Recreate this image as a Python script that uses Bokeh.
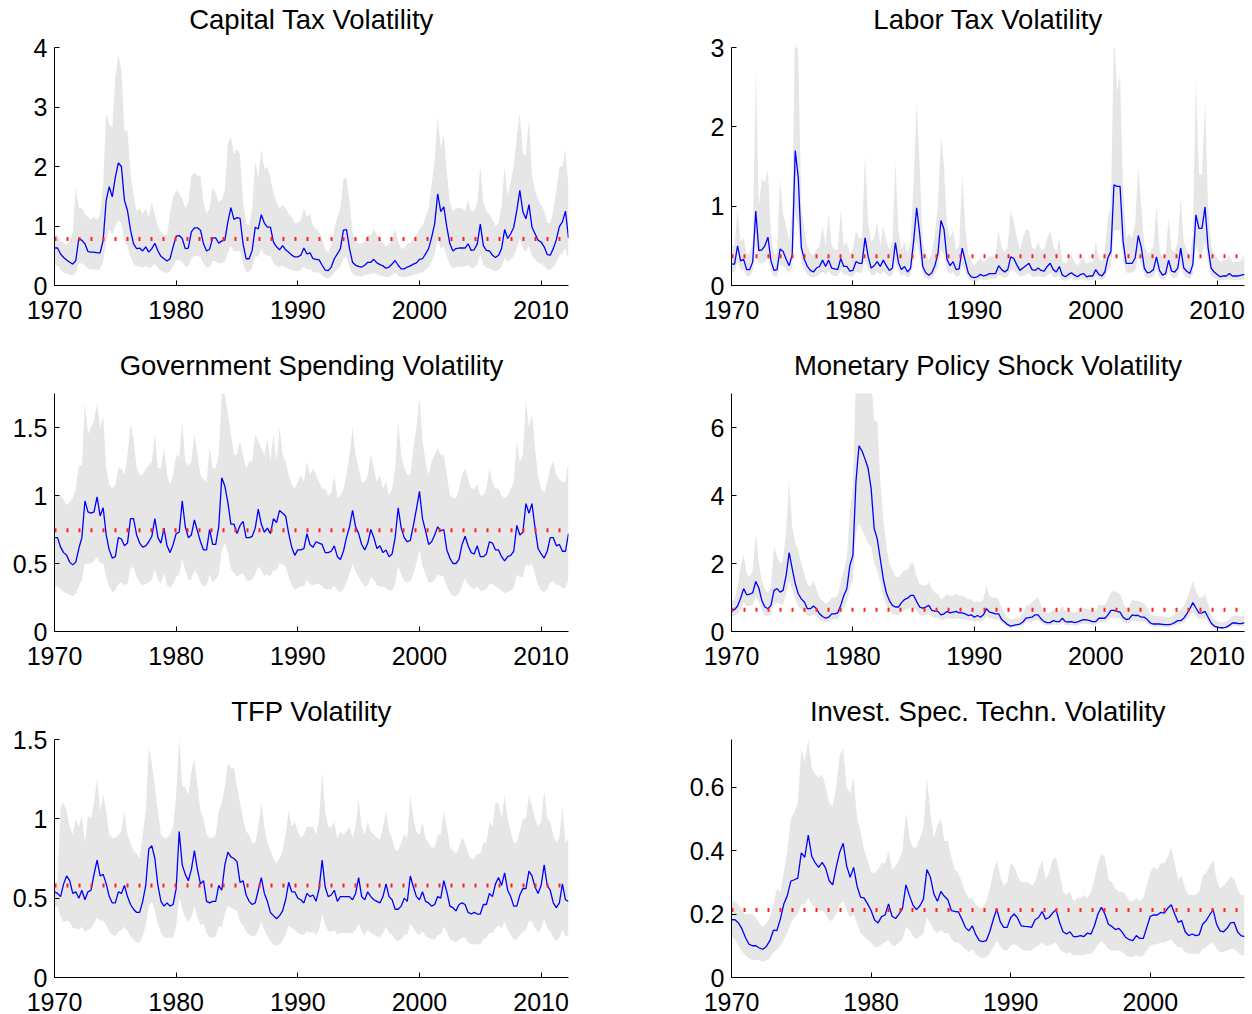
import numpy as np
from bokeh.plotting import figure
from bokeh.layouts import column, row
from bokeh.models import Span, FixedTicker, Range1d, CustomJSTickFormatter
from bokeh.embed import file_html
from bokeh.resources import INLINE

START_YEAR = 1970.0
QUARTER = 0.25
XTICKS = [1970, 1980, 1990, 2000, 2010]

# ---------------- Capital Tax Volatility ----------------
CAP_TITLE = "Capital Tax Volatility"
CAP_MED = [0.63,0.63,0.53,0.47, 0.43,0.39,0.36,0.42, 0.79,0.76,0.70,0.57, 0.56,0.56,0.55,0.55,
           0.76,1.43,1.66,1.49, 1.82,2.06,2.00,1.43, 1.26,0.93,0.70,0.62, 0.63,0.58,0.65,0.56,
           0.62,0.71,0.58,0.49, 0.45,0.41,0.45,0.65, 0.83,0.84,0.79,0.62, 0.63,0.90,0.97,0.97,
           0.93,0.70,0.58,0.61, 0.80,0.80,0.71,0.75, 0.76,1.07,1.31,1.11, 1.14,1.13,0.70,0.45,
           0.45,0.59,0.98,0.95, 1.19,1.05,0.98,0.98, 0.73,0.65,0.60,0.67, 0.60,0.56,0.51,0.48,
           0.48,0.51,0.63,0.53, 0.55,0.45,0.44,0.43, 0.34,0.26,0.25,0.31, 0.45,0.53,0.62,0.93,
           0.94,0.62,0.39,0.34, 0.32,0.31,0.34,0.39, 0.39,0.44,0.38,0.35, 0.33,0.29,0.31,0.36,
           0.42,0.34,0.28,0.28, 0.31,0.33,0.36,0.38, 0.44,0.45,0.53,0.62, 0.81,1.04,1.54,1.24,
           1.32,0.98,0.70,0.58, 0.62,0.63,0.63,0.63, 0.70,0.59,0.60,0.70, 1.03,0.67,0.59,0.58,
           0.51,0.47,0.51,0.62, 0.94,0.79,0.87,0.98, 1.26,1.60,1.24,1.12, 1.36,0.98,0.87,0.76,
           0.73,0.65,0.52,0.51, 0.62,0.77,0.99,1.07, 1.25,0.80]
CAP_HI = [0.85,0.85,0.75,0.72, 0.68,0.75,0.90,1.65, 1.30,1.30,1.20,1.15, 1.10,1.15,1.10,1.20,
          1.70,2.90,2.70,2.65, 3.50,3.90,3.60,2.60, 2.60,1.90,1.50,1.25, 1.30,1.20,1.30,1.15,
          1.40,1.20,1.00,0.90, 0.85,0.85,1.20,1.50, 1.60,1.55,1.45,1.30, 1.40,1.85,1.90,1.85,
          1.85,1.40,1.20,1.30, 1.65,1.55,1.40,1.45, 1.60,2.40,2.50,2.20, 2.30,2.20,1.40,1.05,
          1.00,1.30,2.10,1.80, 2.30,1.95,2.00,1.80, 1.55,1.40,1.30,1.35, 1.30,1.20,1.15,1.05,
          1.05,1.10,1.30,1.15, 1.20,1.00,0.95,0.90, 0.78,0.60,0.55,0.68, 0.95,1.15,1.30,1.80,
          1.80,1.40,0.90,0.75, 0.70,0.70,0.75,0.85, 0.85,0.95,0.85,0.80, 0.72,0.65,0.70,0.80,
          0.95,0.75,0.62,0.62, 0.70,0.72,0.80,0.85, 0.95,1.00,1.15,1.30, 1.70,2.10,2.85,2.30,
          2.55,1.90,1.40,1.25, 1.30,1.30,1.30,1.25, 1.45,1.25,1.25,1.40, 2.00,1.40,1.25,1.20,
          1.10,1.00,1.05,1.35, 2.00,1.50,1.75,2.00, 2.50,2.90,2.20,2.20, 2.80,1.85,1.60,1.45,
          1.35,1.25,1.05,1.05, 1.25,1.60,2.00,2.00, 2.30,1.65]
CAP_LO = [0.35,0.33,0.27,0.22, 0.20,0.18,0.17,0.20, 0.38,0.37,0.34,0.28, 0.27,0.27,0.26,0.27,
          0.40,0.75,0.95,0.85, 1.00,1.10,1.05,0.75, 0.65,0.48,0.36,0.32, 0.32,0.30,0.33,0.29,
          0.32,0.36,0.30,0.25, 0.23,0.21,0.23,0.33, 0.42,0.43,0.40,0.32, 0.32,0.46,0.50,0.50,
          0.48,0.36,0.30,0.31, 0.41,0.41,0.37,0.38, 0.39,0.55,0.67,0.57, 0.58,0.58,0.36,0.23,
          0.23,0.30,0.50,0.48, 0.60,0.53,0.50,0.50, 0.37,0.33,0.30,0.34, 0.30,0.28,0.26,0.24,
          0.24,0.26,0.32,0.27, 0.28,0.23,0.22,0.22, 0.17,0.13,0.12,0.15, 0.22,0.27,0.31,0.47,
          0.47,0.31,0.20,0.17, 0.16,0.15,0.17,0.19, 0.19,0.22,0.19,0.17, 0.16,0.14,0.15,0.18,
          0.21,0.17,0.14,0.14, 0.15,0.16,0.18,0.19, 0.22,0.22,0.26,0.31, 0.40,0.52,0.78,0.62,
          0.66,0.49,0.35,0.29, 0.31,0.32,0.32,0.32, 0.35,0.30,0.30,0.35, 0.52,0.34,0.30,0.29,
          0.26,0.24,0.26,0.31, 0.47,0.40,0.44,0.49, 0.63,0.80,0.62,0.56, 0.68,0.49,0.44,0.38,
          0.37,0.33,0.26,0.26, 0.31,0.39,0.50,0.54, 0.63,0.41]
CAP_MEAN = 0.78
CAP_YTICKS = [0, 1, 2, 3, 4]
CAP_YMAX = 4

# ---------------- Labor Tax Volatility ----------------
LAB_TITLE = "Labor Tax Volatility"
LAB_MED = [0.27,0.27,0.50,0.31, 0.33,0.20,0.20,0.30, 0.94,0.44,0.45,0.50, 0.61,0.31,0.19,0.20,
           0.46,0.43,0.33,0.25, 0.39,1.70,1.36,0.48, 0.33,0.24,0.19,0.17, 0.22,0.24,0.32,0.24,
           0.32,0.22,0.21,0.20, 0.34,0.24,0.24,0.18, 0.19,0.30,0.28,0.28, 0.60,0.37,0.22,0.25,
           0.30,0.24,0.32,0.25, 0.19,0.22,0.54,0.29, 0.20,0.24,0.17,0.22, 0.56,0.98,0.65,0.24,
           0.16,0.13,0.16,0.25, 0.40,0.82,0.71,0.33, 0.25,0.30,0.20,0.21, 0.47,0.31,0.16,0.11,
           0.10,0.11,0.14,0.12, 0.13,0.15,0.15,0.15, 0.25,0.20,0.17,0.20, 0.36,0.34,0.26,0.19,
           0.22,0.25,0.28,0.20, 0.19,0.22,0.19,0.18, 0.24,0.28,0.20,0.17, 0.24,0.13,0.11,0.14,
           0.16,0.13,0.11,0.14, 0.15,0.11,0.12,0.12, 0.20,0.14,0.12,0.17, 0.35,0.43,1.27,1.25,
           1.25,0.56,0.28,0.28, 0.28,0.35,0.63,0.48, 0.22,0.16,0.17,0.20, 0.36,0.19,0.13,0.15,
           0.32,0.18,0.17,0.22, 0.47,0.22,0.18,0.15, 0.27,0.89,0.72,0.72, 0.99,0.48,0.22,0.17,
           0.14,0.11,0.12,0.12, 0.15,0.12,0.12,0.12, 0.13,0.14]
LAB_HI = [0.50,0.50,0.95,0.55, 0.60,0.40,0.40,0.55, 2.70,1.00,1.35,1.30, 1.45,0.65,0.40,0.40,
          1.35,0.90,0.75,0.55, 0.95,3.40,2.90,1.00, 0.70,0.50,0.40,0.38, 0.45,0.50,0.75,0.50,
          0.90,0.50,0.45,0.45, 0.95,0.50,0.55,0.40, 0.45,0.70,0.60,0.60, 1.65,0.80,0.55,0.60,
          0.80,0.50,0.75,0.55, 0.45,0.55,1.55,0.70, 0.45,0.55,0.40,0.55, 1.30,2.30,1.50,0.55,
          0.38,0.32,0.40,0.65, 1.00,1.90,1.50,0.75, 0.60,0.70,0.45,0.50, 1.40,0.75,0.40,0.30,
          0.25,0.30,0.35,0.30, 0.32,0.37,0.37,0.37, 0.70,0.48,0.42,0.50, 0.95,0.80,0.60,0.45,
          0.60,0.70,0.70,0.48, 0.45,0.55,0.45,0.45, 0.60,0.70,0.50,0.42, 0.60,0.30,0.28,0.33,
          0.38,0.30,0.25,0.32, 0.35,0.27,0.30,0.30, 0.55,0.35,0.30,0.45, 0.85,1.00,3.20,2.45,
          2.65,1.20,0.60,0.65, 0.60,0.80,1.50,1.00, 0.50,0.40,0.42,0.50, 1.00,0.45,0.33,0.38,
          0.85,0.45,0.42,0.55, 1.10,0.55,0.45,0.37, 0.65,2.60,1.40,1.40, 2.30,1.00,0.50,0.40,
          0.35,0.30,0.32,0.32, 0.38,0.30,0.30,0.30, 0.32,0.40]
LAB_LO = [0.17,0.17,0.30,0.20, 0.20,0.12,0.12,0.18, 0.50,0.28,0.28,0.30, 0.35,0.19,0.11,0.12,
          0.26,0.25,0.20,0.15, 0.22,0.90,0.75,0.28, 0.20,0.14,0.11,0.10, 0.12,0.14,0.18,0.14,
          0.18,0.13,0.12,0.12, 0.19,0.14,0.14,0.11, 0.11,0.17,0.16,0.16, 0.33,0.21,0.13,0.14,
          0.17,0.14,0.18,0.14, 0.11,0.13,0.30,0.17, 0.12,0.14,0.10,0.13, 0.31,0.55,0.37,0.14,
          0.09,0.07,0.09,0.14, 0.22,0.45,0.40,0.19, 0.14,0.17,0.11,0.12, 0.26,0.18,0.09,0.06,
          0.05,0.06,0.08,0.07, 0.07,0.08,0.08,0.08, 0.14,0.11,0.10,0.11, 0.20,0.19,0.15,0.11,
          0.12,0.14,0.16,0.11, 0.11,0.12,0.11,0.10, 0.13,0.16,0.11,0.10, 0.13,0.07,0.06,0.08,
          0.09,0.07,0.06,0.08, 0.08,0.06,0.07,0.07, 0.11,0.08,0.07,0.09, 0.19,0.24,0.70,0.70,
          0.70,0.31,0.16,0.16, 0.16,0.19,0.35,0.27, 0.12,0.09,0.09,0.11, 0.20,0.10,0.07,0.08,
          0.18,0.10,0.09,0.12, 0.26,0.12,0.10,0.08, 0.15,0.50,0.40,0.40, 0.55,0.27,0.12,0.09,
          0.08,0.06,0.07,0.07, 0.08,0.07,0.07,0.07, 0.07,0.08]
LAB_MEAN = 0.37
LAB_YTICKS = [0, 1, 2, 3]
LAB_YMAX = 3

# ---------------- Government Spending Volatility ----------------
GOV_TITLE = "Government Spending Volatility"
GOV_MED = [0.69,0.69,0.62,0.58, 0.56,0.51,0.49,0.51, 0.61,0.69,0.96,0.88, 0.87,0.88,0.99,0.85,
           0.91,0.71,0.60,0.54, 0.55,0.69,0.68,0.63, 0.65,0.83,0.83,0.71, 0.65,0.62,0.63,0.66,
           0.70,0.83,0.69,0.65, 0.76,0.63,0.58,0.64, 0.72,0.73,0.96,0.77, 0.69,0.71,0.82,0.74,
           0.66,0.60,0.60,0.75, 0.64,0.64,0.77,1.13, 1.07,0.95,0.79,0.79, 0.72,0.78,0.81,0.69,
           0.69,0.70,0.76,0.90, 0.79,0.73,0.76,0.72, 0.83,0.80,0.89,0.87, 0.85,0.72,0.62,0.56,
           0.60,0.60,0.61,0.72, 0.64,0.62,0.66,0.65, 0.64,0.58,0.58,0.59, 0.63,0.55,0.53,0.59,
           0.69,0.77,0.89,0.77, 0.72,0.64,0.60,0.65, 0.75,0.69,0.61,0.63, 0.58,0.60,0.55,0.57,
           0.69,0.91,0.76,0.69, 0.66,0.67,0.78,0.90, 1.03,0.83,0.74,0.64, 0.66,0.71,0.77,0.74,
           0.75,0.60,0.54,0.50, 0.50,0.53,0.64,0.70, 0.63,0.58,0.57,0.63, 0.55,0.55,0.57,0.66,
           0.65,0.60,0.60,0.55, 0.52,0.55,0.56,0.59, 0.78,0.71,0.73,0.94, 0.87,0.94,0.76,0.61,
           0.57,0.54,0.59,0.69, 0.69,0.63,0.64,0.59, 0.59,0.72]
GOV_HI = [1.00,1.00,1.00,0.97, 0.93,0.95,0.98,1.05, 1.22,1.22,1.68,1.45, 1.50,1.55,1.68,1.50,
          1.58,1.20,1.08,1.05, 1.08,1.20,1.20,1.15, 1.30,1.53,1.42,1.20, 1.15,1.15,1.20,1.22,
          1.25,1.45,1.20,1.20, 1.35,1.15,1.08,1.15, 1.30,1.28,1.55,1.25, 1.22,1.25,1.45,1.30,
          1.15,1.12,1.10,1.35, 1.20,1.20,1.30,1.75, 1.75,1.60,1.45,1.30, 1.30,1.40,1.30,1.20,
          1.25,1.25,1.45,1.40, 1.35,1.30,1.42,1.25, 1.45,1.25,1.50,1.30, 1.25,1.15,1.08,1.05,
          1.10,1.15,1.10,1.25, 1.15,1.20,1.15,1.10, 1.05,1.05,1.00,1.02, 1.15,0.98,1.00,1.05,
          1.15,1.30,1.50,1.30, 1.20,1.10,1.10,1.15, 1.30,1.20,1.10,1.15, 1.05,1.10,1.00,1.05,
          1.20,1.55,1.30,1.20, 1.15,1.15,1.35,1.50, 1.72,1.40,1.25,1.15, 1.25,1.30,1.35,1.30,
          1.30,1.15,1.00,0.98, 0.98,1.05,1.15,1.20, 1.12,1.05,1.05,1.08, 1.00,1.00,1.05,1.20,
          1.10,1.05,1.05,1.00, 0.98,1.00,1.05,1.10, 1.40,1.25,1.30,1.70, 1.50,1.60,1.35,1.15,
          1.05,1.02,1.10,1.20, 1.25,1.15,1.12,1.10, 1.10,1.25]
GOV_LO = [0.33,0.33,0.31,0.29, 0.28,0.27,0.26,0.28, 0.33,0.38,0.50,0.50, 0.50,0.52,0.55,0.50,
          0.50,0.40,0.33,0.29, 0.30,0.35,0.36,0.34, 0.35,0.47,0.47,0.40, 0.36,0.34,0.35,0.36,
          0.38,0.46,0.38,0.35, 0.43,0.34,0.32,0.35, 0.40,0.42,0.53,0.45, 0.38,0.38,0.45,0.42,
          0.36,0.33,0.34,0.42, 0.36,0.38,0.42,0.60, 0.65,0.58,0.46,0.43, 0.40,0.42,0.43,0.38,
          0.37,0.38,0.42,0.48, 0.45,0.41,0.42,0.40, 0.45,0.45,0.50,0.49, 0.48,0.40,0.34,0.31,
          0.32,0.33,0.33,0.38, 0.35,0.34,0.35,0.35, 0.33,0.31,0.31,0.31, 0.34,0.30,0.29,0.31,
          0.36,0.42,0.50,0.44, 0.40,0.36,0.33,0.34, 0.40,0.38,0.34,0.33, 0.33,0.32,0.30,0.30,
          0.35,0.48,0.42,0.37, 0.36,0.37,0.42,0.50, 0.60,0.48,0.42,0.36, 0.36,0.38,0.42,0.41,
          0.40,0.33,0.29,0.26, 0.26,0.28,0.34,0.39, 0.35,0.32,0.31,0.33, 0.30,0.30,0.31,0.35,
          0.35,0.33,0.32,0.30, 0.28,0.29,0.30,0.32, 0.42,0.40,0.40,0.50, 0.48,0.50,0.42,0.34,
          0.30,0.29,0.31,0.36, 0.37,0.34,0.34,0.32, 0.32,0.38]
GOV_MEAN = 0.745
GOV_YTICKS = [0, 0.5, 1, 1.5]
GOV_YMAX = 1.75

# ---------------- Monetary Policy Shock Volatility ----------------
MON_TITLE = "Monetary Policy Shock Volatility"
MON_MED = [0.62,0.64,0.75,0.98, 1.26,1.08,1.10,1.14, 1.47,1.28,0.91,0.72, 0.67,0.77,1.21,1.26,
           1.16,1.21,1.65,2.32, 1.85,1.41,1.11,0.96, 0.87,0.67,0.67,0.75, 0.67,0.52,0.44,0.39,
           0.42,0.52,0.52,0.55, 0.77,1.06,1.26,1.95, 2.24,4.41,5.46,5.31, 5.07,4.80,4.21,3.03,
           2.73,2.14,1.55,1.14, 0.91,0.77,0.72,0.72, 0.85,0.94,0.98,1.06, 1.06,0.88,0.72,0.69,
           0.72,0.77,0.62,0.60, 0.59,0.49,0.52,0.59, 0.55,0.57,0.59,0.55, 0.55,0.52,0.47,0.49,
           0.42,0.47,0.42,0.49, 0.67,0.57,0.55,0.52, 0.52,0.35,0.28,0.20, 0.16,0.18,0.20,0.22,
           0.28,0.39,0.41,0.42, 0.49,0.49,0.37,0.29, 0.26,0.26,0.32,0.29, 0.29,0.39,0.29,0.28,
           0.29,0.26,0.28,0.32, 0.35,0.34,0.32,0.29, 0.29,0.39,0.39,0.39, 0.49,0.62,0.62,0.59,
           0.57,0.42,0.35,0.37, 0.49,0.47,0.47,0.42, 0.42,0.35,0.25,0.22, 0.22,0.22,0.21,0.20,
           0.20,0.22,0.26,0.32, 0.32,0.39,0.52,0.67, 0.85,0.69,0.54,0.55, 0.59,0.42,0.25,0.16,
           0.13,0.11,0.11,0.13, 0.18,0.25,0.25,0.23, 0.23,0.26]
MON_HI = [0.90,0.95,1.30,1.90, 2.25,1.70,1.60,1.80, 2.90,2.00,1.50,1.25, 1.15,1.30,2.50,2.20,
          2.00,2.10,3.00,4.40, 3.10,2.60,2.40,2.00, 1.70,1.40,1.30,1.50, 1.25,1.00,0.90,0.82,
          0.85,1.00,1.00,1.05, 1.45,1.80,2.20,3.50, 4.30,7.50,7.50,7.50, 7.50,7.50,7.50,6.20,
          6.20,4.50,3.30,2.50, 2.00,1.80,1.60,1.60, 1.70,1.80,1.80,2.00, 2.00,1.60,1.40,1.35,
          1.35,1.45,1.25,1.15, 1.10,0.95,1.00,1.10, 1.05,1.05,1.10,1.05, 1.05,1.00,0.95,0.95,
          0.85,0.90,0.85,0.95, 1.35,1.05,1.00,1.00, 0.95,0.70,0.55,0.42, 0.36,0.38,0.40,0.42,
          0.55,0.75,0.80,0.85, 0.95,1.00,0.75,0.60, 0.55,0.55,0.65,0.60, 0.60,0.75,0.60,0.58,
          0.60,0.55,0.58,0.65, 0.70,0.68,0.65,0.60, 0.60,0.80,0.78,0.78, 0.95,1.15,1.20,1.15,
          1.10,0.85,0.70,0.72, 0.95,0.90,0.90,0.85, 0.82,0.70,0.52,0.46, 0.45,0.45,0.45,0.42,
          0.42,0.45,0.52,0.62, 0.62,0.75,0.95,1.20, 1.50,1.20,1.00,1.00, 1.10,0.80,0.50,0.35,
          0.30,0.27,0.27,0.30, 0.35,0.45,0.48,0.45, 0.45,0.50]
MON_LO = [0.45,0.46,0.50,0.65, 0.85,0.75,0.75,0.78, 1.00,0.88,0.62,0.48, 0.45,0.50,0.80,0.85,
          0.80,0.80,1.10,1.50, 1.25,0.95,0.75,0.65, 0.58,0.45,0.45,0.50, 0.45,0.35,0.30,0.27,
          0.28,0.35,0.35,0.37, 0.52,0.70,0.85,1.30, 1.50,2.90,3.20,3.00, 2.80,2.60,2.50,2.00,
          1.80,1.45,1.05,0.78, 0.62,0.52,0.48,0.48, 0.58,0.63,0.66,0.70, 0.70,0.60,0.48,0.46,
          0.48,0.52,0.42,0.40, 0.40,0.33,0.35,0.40, 0.37,0.38,0.40,0.37, 0.37,0.35,0.32,0.33,
          0.28,0.31,0.28,0.33, 0.45,0.38,0.37,0.35, 0.35,0.24,0.19,0.13, 0.10,0.12,0.13,0.15,
          0.19,0.26,0.28,0.28, 0.33,0.33,0.25,0.19, 0.17,0.17,0.21,0.19, 0.19,0.26,0.19,0.18,
          0.19,0.17,0.18,0.21, 0.23,0.22,0.21,0.19, 0.19,0.26,0.26,0.26, 0.33,0.41,0.41,0.39,
          0.38,0.28,0.23,0.24, 0.33,0.31,0.31,0.28, 0.28,0.23,0.16,0.14, 0.14,0.14,0.14,0.13,
          0.13,0.14,0.17,0.21, 0.21,0.26,0.35,0.45, 0.57,0.46,0.36,0.37, 0.39,0.28,0.16,0.10,
          0.08,0.07,0.07,0.08, 0.11,0.16,0.16,0.15, 0.15,0.17]
MON_MEAN = 0.64
MON_YTICKS = [0, 2, 4, 6]
MON_YMAX = 7

# ---------------- TFP Volatility ----------------
TFP_TITLE = "TFP Volatility"
TFP_MED = [0.54,0.53,0.51,0.59, 0.64,0.61,0.53,0.54, 0.50,0.55,0.49,0.54, 0.55,0.65,0.74,0.64,
           0.65,0.59,0.51,0.47, 0.47,0.54,0.53,0.58, 0.51,0.46,0.43,0.41, 0.41,0.48,0.58,0.81,
           0.83,0.75,0.58,0.48, 0.45,0.47,0.45,0.46, 0.56,0.92,0.71,0.65, 0.61,0.68,0.80,0.68,
           0.59,0.61,0.48,0.47, 0.48,0.48,0.58,0.55, 0.71,0.79,0.76,0.75, 0.73,0.60,0.61,0.52,
           0.48,0.46,0.47,0.55, 0.63,0.53,0.48,0.41, 0.39,0.37,0.39,0.42, 0.49,0.60,0.54,0.54,
           0.50,0.49,0.47,0.53, 0.51,0.52,0.48,0.56, 0.74,0.57,0.51,0.52, 0.55,0.48,0.51,0.51,
           0.51,0.51,0.49,0.53, 0.63,0.51,0.49,0.54, 0.51,0.49,0.48,0.47, 0.51,0.59,0.51,0.49,
           0.43,0.43,0.45,0.50, 0.48,0.64,0.57,0.51, 0.49,0.54,0.48,0.47, 0.45,0.46,0.51,0.50,
           0.61,0.54,0.45,0.44, 0.42,0.46,0.47,0.46, 0.41,0.40,0.41,0.40, 0.40,0.46,0.46,0.53,
           0.51,0.59,0.63,0.58, 0.66,0.55,0.51,0.45, 0.45,0.52,0.56,0.56, 0.67,0.64,0.57,0.53,
           0.58,0.71,0.58,0.55, 0.47,0.44,0.47,0.59, 0.49,0.48]
TFP_HI = [0.60,0.60,1.08,1.10, 1.05,0.95,0.90,1.00, 0.95,1.02,0.85,1.02, 1.00,1.10,1.25,1.05,
          1.15,1.05,0.90,0.88, 0.88,0.90,0.92,1.05, 0.90,0.85,0.80,0.78, 0.75,0.90,1.05,1.45,
          1.35,1.20,1.05,0.90, 0.88,0.88,0.90,0.95, 1.15,1.50,1.20,1.20, 1.15,1.30,1.38,1.20,
          1.05,1.00,0.90,0.88, 0.88,0.90,1.05,1.10, 1.20,1.35,1.32,1.32, 1.20,1.10,1.00,0.92,
          0.90,0.85,0.85,0.95, 1.10,0.95,0.85,0.80, 0.75,0.72,0.75,0.80, 0.90,1.05,0.95,0.98,
          0.92,0.88,0.90,0.95, 0.95,0.95,0.90,1.00, 1.30,1.05,0.95,0.95, 0.98,0.88,0.92,0.90,
          0.92,0.95,0.88,0.95, 1.12,0.95,0.90,0.98, 0.92,0.90,0.88,0.87, 0.95,1.05,0.92,0.88,
          0.80,0.80,0.85,0.90, 0.88,1.15,1.00,0.92, 0.90,0.98,0.88,0.85, 0.82,0.82,0.90,0.90,
          1.05,0.95,0.82,0.80, 0.78,0.82,0.88,0.85, 0.78,0.75,0.75,0.78, 0.78,0.85,0.85,0.98,
          0.95,1.10,1.10,1.00, 1.15,1.00,0.92,0.85, 0.85,0.92,1.00,1.00, 1.15,1.08,1.00,0.95,
          0.98,1.18,1.00,0.98, 0.90,0.85,0.88,1.08, 0.85,0.88]
TFP_LO = [0.45,0.45,0.38,0.35, 0.36,0.35,0.31,0.31, 0.30,0.32,0.29,0.30, 0.31,0.34,0.38,0.36,
          0.36,0.33,0.29,0.27, 0.26,0.29,0.30,0.32, 0.29,0.26,0.24,0.22, 0.22,0.26,0.33,0.45,
          0.48,0.42,0.34,0.28, 0.25,0.25,0.25,0.25, 0.32,0.50,0.43,0.38, 0.35,0.38,0.45,0.38,
          0.33,0.34,0.28,0.25, 0.25,0.26,0.32,0.32, 0.40,0.45,0.44,0.43, 0.42,0.35,0.33,0.29,
          0.27,0.26,0.26,0.30, 0.35,0.30,0.26,0.23, 0.21,0.20,0.21,0.23, 0.27,0.33,0.31,0.30,
          0.28,0.27,0.27,0.29, 0.28,0.29,0.27,0.30, 0.40,0.33,0.29,0.29, 0.30,0.27,0.28,0.28,
          0.28,0.28,0.28,0.30, 0.34,0.29,0.27,0.30, 0.28,0.27,0.26,0.25, 0.28,0.32,0.28,0.27,
          0.24,0.23,0.24,0.27, 0.27,0.34,0.31,0.28, 0.27,0.29,0.26,0.25, 0.24,0.24,0.27,0.27,
          0.32,0.29,0.24,0.23, 0.22,0.24,0.25,0.25, 0.22,0.21,0.21,0.21, 0.21,0.24,0.25,0.28,
          0.28,0.31,0.33,0.31, 0.35,0.30,0.27,0.24, 0.24,0.27,0.29,0.30, 0.36,0.35,0.31,0.28,
          0.31,0.37,0.31,0.29, 0.25,0.23,0.25,0.30, 0.26,0.26]
TFP_MEAN = 0.58
TFP_YTICKS = [0, 0.5, 1, 1.5]
TFP_YMAX = 1.5

# ---------------- Invest. Spec. Techn. Volatility ----------------
IST_TITLE = "Invest. Spec. Techn. Volatility"
IST_MED = [0.182,0.182,0.172,0.153, 0.126,0.105,0.100,0.100, 0.093,0.089,0.098,0.116,
           0.149,0.148,0.184,0.232, 0.258,0.304,0.308,0.313, 0.393,0.379,0.449,0.382,
           0.361,0.347,0.363,0.344, 0.305,0.292,0.347,0.395, 0.423,0.351,0.316,0.347,
           0.287,0.253,0.250,0.232, 0.211,0.181,0.172,0.192, 0.197,0.232,0.193,0.186,
           0.200,0.218,0.292,0.258, 0.228,0.214,0.226,0.247, 0.340,0.316,0.263,0.240,
           0.271,0.256,0.245,0.211, 0.208,0.207,0.184,0.158, 0.147,0.163,0.135,0.116,
           0.113,0.116,0.144,0.182, 0.216,0.176,0.158,0.158, 0.189,0.200,0.187,0.163,
           0.161,0.160,0.158,0.182, 0.189,0.208,0.184,0.189, 0.203,0.214,0.174,0.144,
           0.137,0.144,0.129,0.129, 0.132,0.129,0.140,0.137, 0.163,0.200,0.221,0.200,
           0.168,0.161,0.151,0.155, 0.142,0.126,0.119,0.116, 0.132,0.123,0.123,0.158,
           0.193,0.197,0.197,0.205, 0.203,0.218,0.229,0.200, 0.174,0.179,0.144,0.132,
           0.137,0.132,0.134,0.168, 0.179,0.197,0.214,0.168, 0.147,0.144,0.155,0.172,
           0.174,0.144,0.132,0.129]
IST_HI = [0.24,0.24,0.23,0.21, 0.20,0.20,0.20,0.19, 0.17,0.16,0.17,0.19, 0.23,0.28,0.27,0.33,
          0.40,0.50,0.52,0.55, 0.72,0.68,0.75,0.66, 0.64,0.63,0.64,0.60, 0.55,0.54,0.60,0.70,
          0.72,0.60,0.58,0.63, 0.50,0.46,0.40,0.37, 0.33,0.33,0.34,0.36, 0.36,0.40,0.34,0.35,
          0.37,0.40,0.52,0.44, 0.41,0.41,0.44,0.47, 0.63,0.52,0.44,0.48, 0.50,0.43,0.43,0.38,
          0.34,0.33,0.30,0.27, 0.25,0.25,0.23,0.22, 0.22,0.24,0.28,0.33, 0.37,0.32,0.29,0.30,
          0.36,0.35,0.32,0.30, 0.30,0.30,0.29,0.30, 0.34,0.37,0.31,0.33, 0.37,0.38,0.33,0.27,
          0.26,0.27,0.24,0.25, 0.25,0.26,0.25,0.27, 0.31,0.36,0.39,0.38, 0.31,0.30,0.28,0.27,
          0.27,0.26,0.24,0.24, 0.25,0.24,0.25,0.29, 0.33,0.35,0.34,0.36, 0.36,0.38,0.41,0.36,
          0.31,0.32,0.28,0.26, 0.26,0.26,0.27,0.32, 0.33,0.35,0.37,0.31, 0.28,0.29,0.30,0.32,
          0.31,0.28,0.26,0.26]
IST_LO = [0.13,0.12,0.10,0.08, 0.07,0.06,0.055,0.055, 0.055,0.05,0.055,0.06, 0.08,0.09,0.10,0.12,
          0.14,0.17,0.19,0.20, 0.23,0.23,0.25,0.23, 0.22,0.21,0.21,0.20, 0.18,0.18,0.20,0.23,
          0.24,0.21,0.19,0.20, 0.17,0.14,0.13,0.12, 0.11,0.095,0.095,0.105, 0.11,0.12,0.10,0.10,
          0.11,0.12,0.16,0.15, 0.13,0.12,0.13,0.14, 0.19,0.17,0.15,0.14, 0.15,0.14,0.14,0.12,
          0.11,0.11,0.10,0.09, 0.08,0.09,0.075,0.065, 0.06,0.065,0.075,0.095, 0.115,0.10,0.085,0.085,
          0.10,0.105,0.10,0.09, 0.085,0.085,0.085,0.095, 0.10,0.11,0.10,0.10, 0.105,0.11,0.09,0.08,
          0.075,0.08,0.07,0.07, 0.07,0.07,0.075,0.075, 0.085,0.105,0.115,0.105, 0.09,0.085,0.085,0.085,
          0.08,0.07,0.065,0.065, 0.07,0.065,0.07,0.085, 0.10,0.105,0.105,0.11, 0.11,0.115,0.12,0.105,
          0.095,0.095,0.08,0.075, 0.075,0.075,0.075,0.09, 0.095,0.105,0.11,0.09, 0.08,0.08,0.085,0.09,
          0.09,0.08,0.07,0.07]
IST_MEAN = 0.213
IST_YTICKS = [0, 0.2, 0.4, 0.6]
IST_YMAX = 0.75

FONT = "Liberation Sans"


def panel(title, med, lo, hi, mean, yticks, ymax, width, height,
          b_left, b_right, b_bottom):
    n = min(len(med), len(lo), len(hi))
    x = START_YEAR + QUARTER * np.arange(n)
    p = figure(width=width, height=height,
               x_range=Range1d(START_YEAR, x[-1]), y_range=Range1d(0, ymax),
               output_backend="svg", toolbar_location=None,
               min_border_left=b_left, min_border_right=b_right,
               min_border_top=47, min_border_bottom=b_bottom)
    p.varea(x=x, y1=np.array(lo[:n]), y2=np.array(hi[:n]), fill_color="#e6e6e6")
    p.line(x, np.array(med[:n]), line_color="#0000ff", line_width=1.3)
    p.add_layout(Span(location=mean, dimension="width", line_color="#ff2020",
                      line_width=4, line_dash="2 10"))
    p.outline_line_color = None
    p.grid.visible = False
    p.background_fill_color = "white"
    p.border_fill_color = "white"
    p.title.text = title
    p.title.align = "center"
    p.title.text_font = FONT
    p.title.text_font_size = "27.5px"
    p.title.text_font_style = "normal"
    p.title.text_color = "black"
    p.title.standoff = 0
    p.title.padding = dict(left=0, right=0, top=0, bottom=13)
    p.xaxis.ticker = FixedTicker(ticks=XTICKS, minor_ticks=[])
    p.yaxis.ticker = FixedTicker(ticks=yticks, minor_ticks=[])
    p.xaxis.formatter = CustomJSTickFormatter(code="return String(tick);")
    p.yaxis.formatter = CustomJSTickFormatter(code="return String(tick);")
    for ax in (p.xaxis[0], p.yaxis[0]):
        ax.major_tick_in = 5
        ax.major_tick_out = 0
        ax.minor_tick_line_color = None
        ax.axis_line_color = "black"
        ax.major_tick_line_color = "black"
        ax.major_label_text_font = FONT
        ax.major_label_text_font_size = "25px"
        ax.major_label_text_color = "black"
    p.xaxis.major_label_standoff = 15
    p.yaxis.major_label_standoff = 7
    return p


LW, RW = 677, 575
H_TOP, H_BOT = 346, 328

p1 = panel(CAP_TITLE, CAP_MED, CAP_LO, CAP_HI, CAP_MEAN, CAP_YTICKS, CAP_YMAX, LW, H_TOP, 54, 109, 61)
p2 = panel(LAB_TITLE, LAB_MED, LAB_LO, LAB_HI, LAB_MEAN, LAB_YTICKS, LAB_YMAX, RW, H_TOP, 54, 8, 61)
p3 = panel(GOV_TITLE, GOV_MED, GOV_LO, GOV_HI, GOV_MEAN, GOV_YTICKS, GOV_YMAX, LW, H_TOP, 54, 109, 61)
p4 = panel(MON_TITLE, MON_MED, MON_LO, MON_HI, MON_MEAN, MON_YTICKS, MON_YMAX, RW, H_TOP, 54, 8, 61)
p5 = panel(TFP_TITLE, TFP_MED, TFP_LO, TFP_HI, TFP_MEAN, TFP_YTICKS, TFP_YMAX, LW, H_BOT, 54, 109, 43)
p6 = panel(IST_TITLE, IST_MED, IST_LO, IST_HI, IST_MEAN, IST_YTICKS, IST_YMAX, RW, H_BOT, 54, 8, 43)

layout = column(row(p1, p2), row(p3, p4), row(p5, p6))
open("out.html", "w").write(file_html(layout, INLINE))
